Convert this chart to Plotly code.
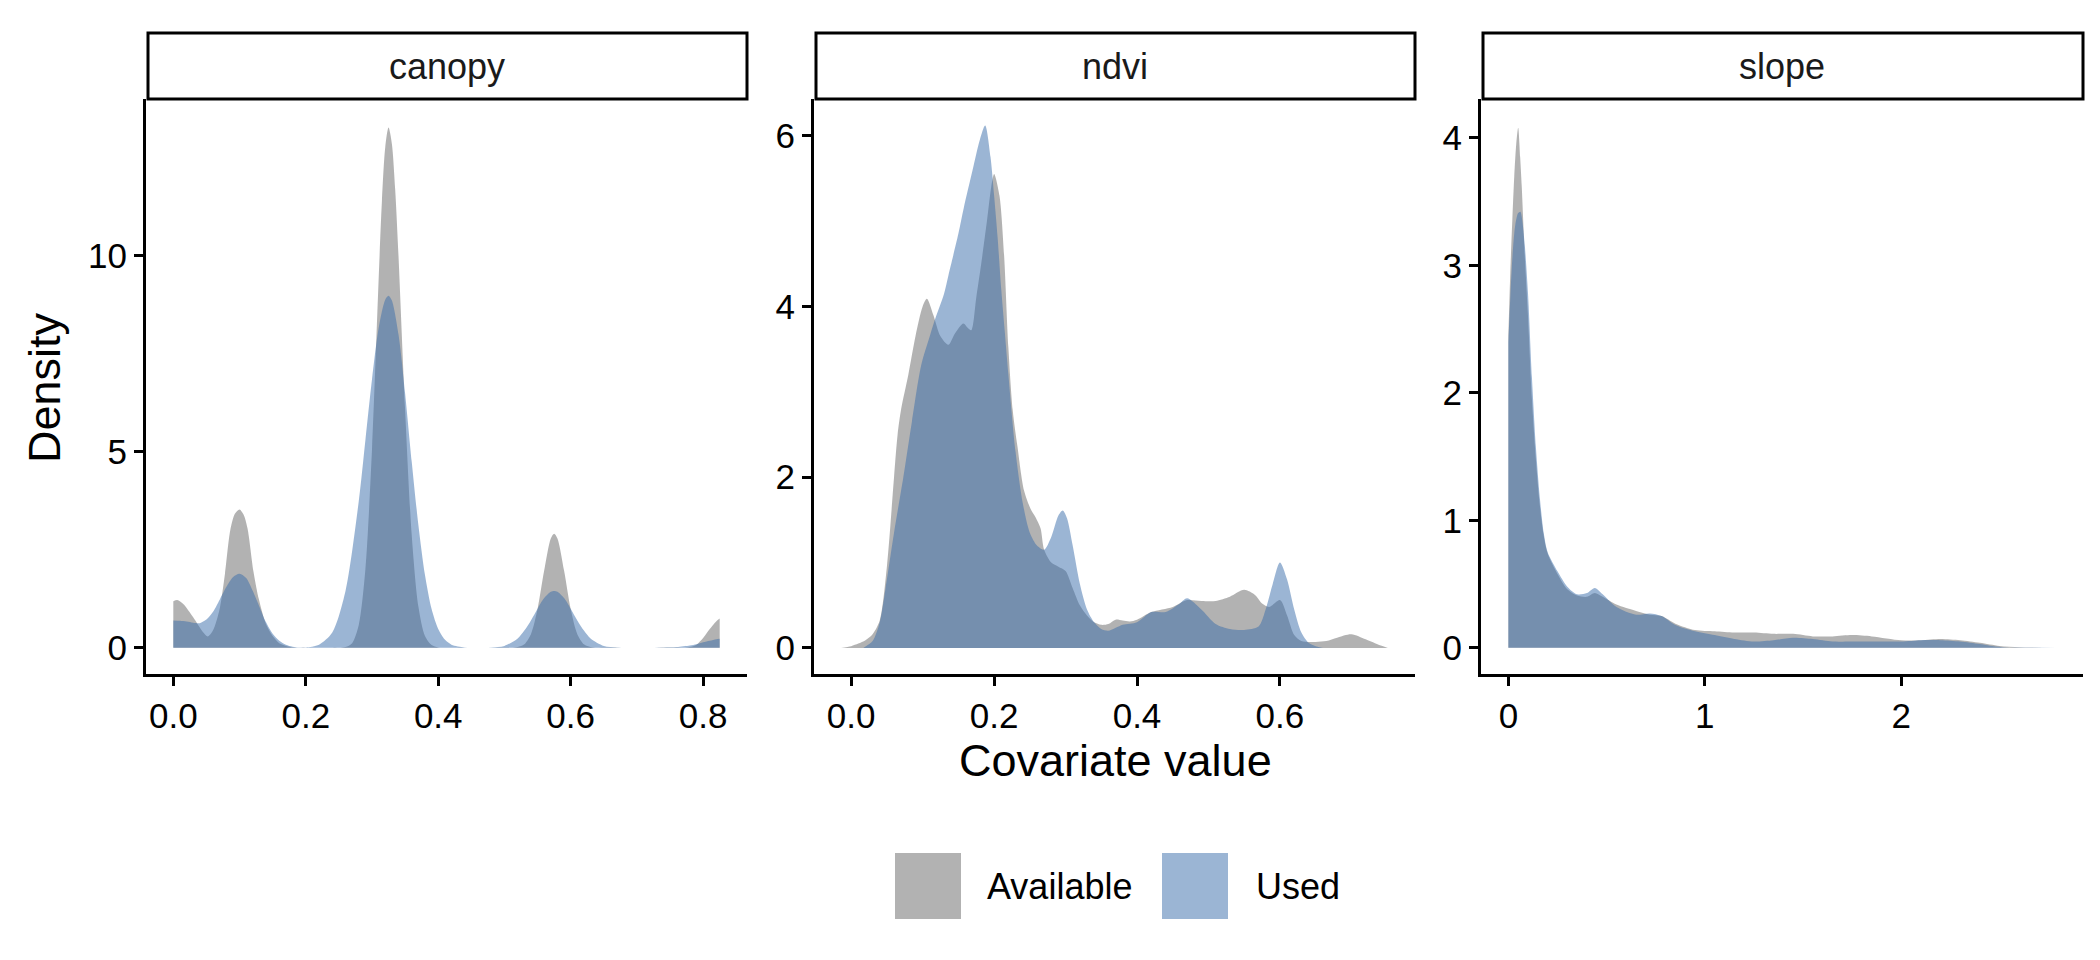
import plotly.graph_objects as go

# density curves (x = covariate value, y = density)
canopy_x_avail = [0.000, 0.006, 0.015, 0.030, 0.045, 0.052, 0.060, 0.070, 0.078, 0.086, 0.093, 0.100,
                  0.106, 0.112, 0.121, 0.129, 0.140, 0.150, 0.160, 0.175, 0.190, 0.210, 0.230, 0.250,
                  0.260, 0.270, 0.280, 0.290, 0.300, 0.310, 0.315, 0.320, 0.325, 0.330, 0.335, 0.340,
                  0.350, 0.360, 0.370, 0.380, 0.390, 0.400, 0.420, 0.460, 0.510, 0.520, 0.530, 0.540,
                  0.550, 0.560, 0.570, 0.575, 0.580, 0.590, 0.600, 0.610, 0.620, 0.630, 0.640, 0.700,
                  0.770, 0.780, 0.790, 0.800, 0.810, 0.820, 0.825]
canopy_y_avail = [1.19, 1.22, 1.12, 0.78, 0.40, 0.29, 0.45, 1.00, 1.89, 3.00, 3.42, 3.53,
                  3.40, 3.05, 1.95, 1.25, 0.60, 0.30, 0.12, 0.03, 0.00, 0.00, 0.00, 0.00,
                  0.02, 0.12, 0.58, 2.00, 5.06, 9.38, 11.40, 12.77, 13.27, 12.86, 11.70, 10.00,
                  6.08, 2.87, 1.06, 0.30, 0.07, 0.01, 0.00, 0.00, 0.00, 0.02, 0.09, 0.35,
                  0.99, 1.97, 2.79, 2.91, 2.79, 1.97, 0.99, 0.35, 0.09, 0.02, 0.00, 0.00,
                  0.00, 0.02, 0.08, 0.25, 0.48, 0.68, 0.75]

canopy_x_used = [0.000, 0.010, 0.020, 0.030, 0.040, 0.050, 0.060, 0.070, 0.080, 0.090, 0.100, 0.110,
                 0.120, 0.130, 0.140, 0.150, 0.160, 0.170, 0.180, 0.190, 0.200, 0.220, 0.240, 0.260,
                 0.280, 0.290, 0.300, 0.310, 0.320, 0.325, 0.330, 0.340, 0.350, 0.360, 0.370, 0.380,
                 0.390, 0.400, 0.410, 0.420, 0.440, 0.460, 0.480, 0.500, 0.520, 0.530, 0.540, 0.550,
                 0.560, 0.570, 0.575, 0.580, 0.590, 0.600, 0.610, 0.620, 0.630, 0.650, 0.670, 0.700,
                 0.740, 0.760, 0.780, 0.790, 0.800, 0.810, 0.820, 0.825]
canopy_y_used = [0.70, 0.69, 0.67, 0.64, 0.63, 0.72, 0.92, 1.23, 1.55, 1.80, 1.89, 1.78,
                 1.45, 1.05, 0.65, 0.36, 0.18, 0.08, 0.03, 0.01, 0.01, 0.08, 0.39, 1.45,
                 3.74, 5.29, 6.85, 8.15, 8.88, 8.98, 8.86, 7.99, 6.49, 4.75, 3.14, 1.86,
                 0.99, 0.48, 0.21, 0.08, 0.01, 0.00, 0.01, 0.05, 0.24, 0.44, 0.70, 1.00,
                 1.27, 1.43, 1.45, 1.43, 1.27, 1.00, 0.70, 0.44, 0.24, 0.05, 0.01, 0.00,
                 0.01, 0.02, 0.06, 0.09, 0.14, 0.18, 0.22, 0.23]

ndvi_x_avail = [-0.014, 0.000, 0.010, 0.020, 0.030, 0.040, 0.050, 0.060, 0.065, 0.070, 0.080, 0.090,
                0.100, 0.106, 0.115, 0.125, 0.136, 0.145, 0.157, 0.163, 0.168, 0.175, 0.182, 0.190,
                0.196, 0.200, 0.2075, 0.214, 0.220, 0.226, 0.2325, 0.242, 0.251, 0.258, 0.265, 0.270,
                0.280, 0.290, 0.300, 0.310, 0.320, 0.330, 0.340, 0.350, 0.360, 0.370, 0.380, 0.390,
                0.400, 0.420, 0.450, 0.470, 0.490, 0.510, 0.530, 0.550, 0.565, 0.575, 0.585, 0.600,
                0.610, 0.620, 0.630, 0.650, 0.665, 0.680, 0.700, 0.720, 0.740, 0.751]
ndvi_y_avail = [0.00, 0.02, 0.05, 0.09, 0.16, 0.32, 0.95, 2.00, 2.50, 2.80, 3.20, 3.65,
                4.00, 4.09, 3.90, 3.65, 3.55, 3.68, 3.80, 3.75, 3.72, 4.10, 4.50, 5.00,
                5.40, 5.55, 5.30, 4.60, 3.52, 2.79, 2.37, 1.84, 1.63, 1.53, 1.40, 1.15,
                1.00, 0.95, 0.90, 0.70, 0.50, 0.38, 0.30, 0.27, 0.28, 0.33, 0.32, 0.31,
                0.33, 0.42, 0.48, 0.56, 0.55, 0.55, 0.60, 0.68, 0.62, 0.52, 0.48, 0.56,
                0.38, 0.15, 0.08, 0.07, 0.08, 0.12, 0.16, 0.10, 0.03, 0.00]

ndvi_x_used = [0.017, 0.030, 0.040, 0.048, 0.060, 0.073, 0.085, 0.098, 0.110, 0.117, 0.130, 0.136,
               0.150, 0.1575, 0.170, 0.180, 0.1875, 0.195, 0.200, 0.205, 0.210, 0.215, 0.220, 0.230,
               0.240, 0.250, 0.260, 0.270, 0.280, 0.290, 0.296, 0.302, 0.310, 0.320, 0.330, 0.340,
               0.350, 0.360, 0.380, 0.400, 0.420, 0.440, 0.460, 0.470, 0.490, 0.510, 0.530, 0.550,
               0.570, 0.580, 0.590, 0.600, 0.610, 0.620, 0.630, 0.640, 0.650, 0.660]
ndvi_y_used = [0.00, 0.08, 0.30, 0.69, 1.35, 2.00, 2.65, 3.31, 3.65, 3.84, 4.15, 4.36,
               4.85, 5.15, 5.60, 5.95, 6.12, 5.75, 5.30, 4.80, 4.20, 3.70, 3.20, 2.30,
               1.70, 1.35, 1.20, 1.15, 1.30, 1.55, 1.61, 1.52, 1.20, 0.75, 0.45, 0.30,
               0.22, 0.20, 0.27, 0.30, 0.42, 0.42, 0.52, 0.58, 0.45, 0.28, 0.22, 0.21,
               0.25, 0.45, 0.75, 1.00, 0.80, 0.45, 0.18, 0.06, 0.02, 0.00]

slope_x_avail = [0.000, 0.010, 0.020, 0.030, 0.040, 0.050, 0.060, 0.068, 0.084, 0.100, 0.120, 0.140,
                 0.160, 0.180, 0.200, 0.250, 0.300, 0.350, 0.400, 0.440, 0.480, 0.550, 0.650, 0.720,
                 0.780, 0.850, 0.950, 1.050, 1.150, 1.250, 1.350, 1.450, 1.550, 1.650, 1.750, 1.850,
                 2.000, 2.100, 2.200, 2.300, 2.400, 2.500, 2.600, 2.786]
slope_y_avail = [2.45, 2.95, 3.35, 3.70, 3.95, 4.08, 3.85, 3.62, 3.06, 2.60, 1.95, 1.48,
                 1.12, 0.88, 0.74, 0.58, 0.46, 0.41, 0.40, 0.43, 0.40, 0.34, 0.29, 0.26,
                 0.25, 0.19, 0.14, 0.13, 0.12, 0.12, 0.11, 0.11, 0.09, 0.09, 0.10, 0.09,
                 0.06, 0.06, 0.07, 0.06, 0.04, 0.015, 0.005, 0.00]

slope_x_used = [0.000, 0.010, 0.020, 0.030, 0.040, 0.050, 0.061, 0.070, 0.084, 0.100, 0.120, 0.140,
                0.160, 0.180, 0.200, 0.250, 0.300, 0.350, 0.400, 0.440, 0.480, 0.550, 0.650, 0.720,
                0.780, 0.850, 0.950, 1.050, 1.150, 1.250, 1.350, 1.450, 1.550, 1.650, 1.750, 1.850,
                2.000, 2.100, 2.200, 2.300, 2.400, 2.480, 2.550, 2.786]
slope_y_used = [2.40, 2.75, 3.05, 3.25, 3.36, 3.41, 3.42, 3.36, 3.15, 2.78, 2.12, 1.58,
                1.18, 0.90, 0.75, 0.60, 0.48, 0.42, 0.43, 0.47, 0.42, 0.32, 0.26, 0.27,
                0.25, 0.18, 0.13, 0.10, 0.07, 0.05, 0.06, 0.08, 0.07, 0.05, 0.05, 0.05,
                0.05, 0.06, 0.06, 0.05, 0.03, 0.01, 0.00, 0.00]

panels = ["canopy", "ndvi", "slope"]
groups = ["Available", "Used"]

W, H = 2100, 960
FONT = "Liberation Sans, Arial, Helvetica, sans-serif"
fill_avail = "rgba(102,102,102,0.5)"
fill_used = "rgba(56,108,170,0.5)"

# panel pixel boxes (left, right), shared top/bottom
panel_px = [(138, 739), (806, 1407), (1473, 2075)]
top_px, bot_px = 91, 666
strip_top_px = 25

x_ranges = [[-0.04125, 0.86625], [-0.052, 0.789], [-0.1393, 2.925]]
y_ranges = [[-0.667, 14.0], [-0.306, 6.43], [-0.205, 4.305]]
x_ticks = [[0, 0.2, 0.4, 0.6, 0.8], [0, 0.2, 0.4, 0.6], [0, 1, 2]]
x_fmt = [".1f", ".1f", "d"]
y_ticks = [[0, 5, 10], [0, 2, 4, 6], [0, 1, 2, 3, 4]]

series = [
    [(canopy_x_avail, canopy_y_avail), (canopy_x_used, canopy_y_used)],
    [(ndvi_x_avail, ndvi_y_avail), (ndvi_x_used, ndvi_y_used)],
    [(slope_x_avail, slope_y_avail), (slope_x_used, slope_y_used)],
]


def px_x(p):
    return p / W


def px_y(p):
    return 1 - p / H


fig = go.Figure()

for i, pair in enumerate(series):
    sfx = "" if i == 0 else str(i + 1)
    for (xs, ys), name, col in zip(pair, groups, [fill_avail, fill_used]):
        fig.add_trace(go.Scatter(
            x=xs, y=ys, name=name, mode="lines",
            line=dict(width=0, shape="spline", smoothing=0.8),
            fill="tozeroy", fillcolor=col,
            xaxis="x" + sfx, yaxis="y" + sfx, showlegend=False,
            hoverinfo="skip",
        ))

axis_style = dict(
    showline=True, linecolor="black", linewidth=3,
    ticks="outside", ticklen=9, tickwidth=3, tickcolor="black",
    showgrid=False, zeroline=False,
    tickfont=dict(family=FONT, size=35, color="black"),
)

layout = dict(
    width=W, height=H,
    margin=dict(l=0, r=0, t=0, b=0),
    paper_bgcolor="white", plot_bgcolor="white",
    font=dict(family=FONT, color="black"),
    shapes=[], annotations=[],
)

for i, (l, r) in enumerate(panel_px):
    sfx = "" if i == 0 else str(i + 1)
    layout["xaxis" + sfx] = dict(
        axis_style, domain=[px_x(l), px_x(r)], range=x_ranges[i],
        tickvals=x_ticks[i], tickformat=x_fmt[i], anchor="y" + sfx,
    )
    layout["yaxis" + sfx] = dict(
        axis_style, domain=[px_y(bot_px), px_y(top_px)], range=y_ranges[i],
        tickvals=y_ticks[i], anchor="x" + sfx,
    )
    # facet strip
    layout["shapes"].append(dict(
        type="rect", xref="paper", yref="paper",
        x0=px_x(l + 2), x1=px_x(r), y0=px_y(top_px), y1=px_y(strip_top_px),
        line=dict(color="black", width=3), fillcolor="white", layer="above",
    ))
    layout["annotations"].append(dict(
        text=panels[i], xref="paper", yref="paper",
        x=px_x((l + r) / 2), y=px_y((strip_top_px + top_px) / 2),
        xanchor="center", yanchor="middle", showarrow=False,
        font=dict(family=FONT, size=36, color="#1a1a1a"),
    ))

# axis titles
layout["annotations"].append(dict(
    text="Covariate value", xref="paper", yref="paper",
    x=px_x(1107), y=px_y(752), xanchor="center", yanchor="middle",
    showarrow=False, font=dict(family=FONT, size=45, color="black"),
))
layout["annotations"].append(dict(
    text="Density", xref="paper", yref="paper", textangle=-90,
    x=px_x(37), y=px_y(380), xanchor="center", yanchor="middle",
    showarrow=False, font=dict(family=FONT, size=45, color="black"),
))

# legend drawn as keys + labels below the panels
key_left = [887, 1154]
text_left = [977, 1246]
for name, col, kl, tl in zip(groups, [fill_avail, fill_used], key_left, text_left):
    layout["shapes"].append(dict(
        type="rect", xref="paper", yref="paper",
        x0=px_x(kl), x1=px_x(kl + 66), y0=px_y(911), y1=px_y(845),
        line=dict(width=0), fillcolor=col,
    ))
    layout["annotations"].append(dict(
        text=name, xref="paper", yref="paper",
        x=px_x(tl), y=px_y(878), xanchor="left", yanchor="middle",
        showarrow=False, font=dict(family=FONT, size=36, color="black"),
    ))

fig.update_layout(**layout)
fig.write_html("out.html")
